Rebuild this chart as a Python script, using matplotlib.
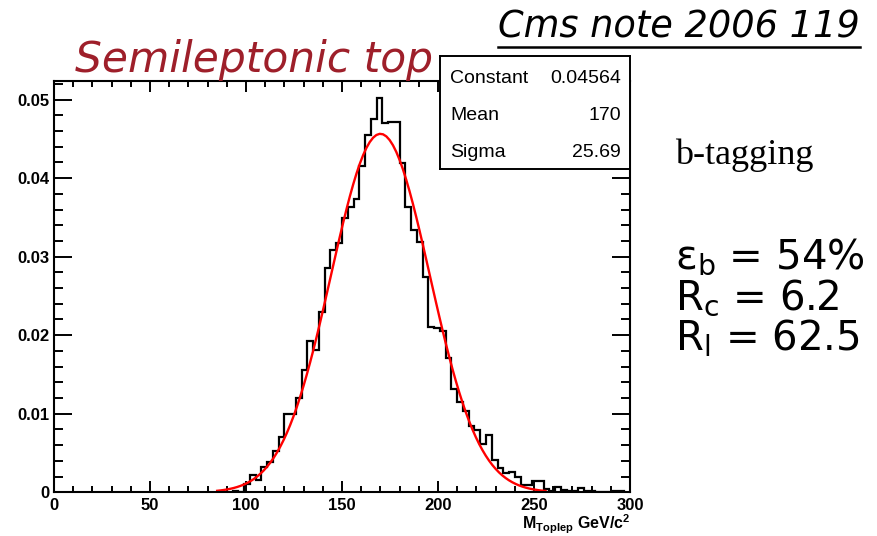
import numpy as np
import matplotlib
matplotlib.use("Agg")
import matplotlib.pyplot as plt
from matplotlib.lines import Line2D
from matplotlib.ticker import MultipleLocator, FixedLocator, FixedFormatter

# --- Datos del histograma (bins de 3 GeV, desde 93 hasta 297) ---
bin_lo = 93
bin_w = 3
counts = [
    0.0002, 0.0, 0.0011, 0.0022, 0.0016, 0.0032, 0.0039, 0.0053, 0.0070, 0.0100,
    0.0100, 0.0120, 0.0156, 0.0192, 0.0181, 0.0230, 0.0285, 0.0308, 0.0318, 0.0349,
    0.0363, 0.0374, 0.0415, 0.0455, 0.0475, 0.0502, 0.0470, 0.0472, 0.0472, 0.0419,
    0.0363, 0.0334, 0.0319, 0.0274, 0.0210, 0.0209, 0.0205, 0.0171, 0.0131, 0.0115,
    0.0103, 0.0085, 0.0079, 0.0062, 0.0073, 0.0041, 0.0031, 0.0024, 0.0026, 0.0019,
    0.0009, 0.0009, 0.0014, 0.0015, 0.0004, 0.0002, 0.0007, 0.0003, 0.0002, 0.0002,
    0.0005, 0.0002, 0.0002, 0.0, 0.0, 0.0, 0.0002, 0.0002,
]

# --- Parametros del ajuste gaussiano ---
fit_const = 0.04564
fit_mean = 170
fit_sigma = 25.69
fit_range = (85, 256)

stat_names = ["Constant", "Mean", "Sigma"]
stat_values = ["0.04564", "170", "25.69"]

yticks = [0, 0.01, 0.02, 0.03, 0.04, 0.05]
ytick_labels = ["0", "0.01", "0.02", "0.03", "0.04", "0.05"]
xticks = [0, 50, 100, 150, 200, 250, 300]

W, H = 877, 536


def fx(x):
    return x / W


def fy(y):
    return 1 - y / H


fig = plt.figure(figsize=(W / 100, H / 100), dpi=100)
ax = fig.add_axes([fx(54), fy(492.3), fx(630) - fx(54), fy(80.7) - fy(492.3)])

edges = bin_lo + bin_w * np.arange(len(counts) + 1)
ax.stairs(counts, edges, color="black", lw=1.6, baseline=0)

xf = np.linspace(fit_range[0], fit_range[1], 100)
yf = fit_const * np.exp(-0.5 * ((xf - fit_mean) / fit_sigma) ** 2)
ax.plot(xf, yf, color="red", lw=1.7)

ax.set_xlim(0, 300)
ax.set_ylim(0, 0.0524)

for s in ax.spines.values():
    s.set_linewidth(1.5)

ax.xaxis.set_major_locator(FixedLocator(xticks))
ax.xaxis.set_minor_locator(MultipleLocator(10))
ax.yaxis.set_major_locator(FixedLocator(yticks))
ax.yaxis.set_major_formatter(FixedFormatter(ytick_labels))
ax.yaxis.set_minor_locator(MultipleLocator(0.002))

ax.tick_params(which="both", direction="in", top=True, right=True, width=1.4)
ax.tick_params(axis="x", which="major", length=8, pad=4)
ax.tick_params(axis="x", which="minor", length=4.3)
ax.tick_params(axis="y", which="major", length=13, pad=3)
ax.tick_params(axis="y", which="minor", length=6.5)
for lab in ax.get_xticklabels() + ax.get_yticklabels():
    lab.set_family("Liberation Sans")
    lab.set_fontweight("bold")
    lab.set_fontsize(12)

fig.text(fx(630), fy(529), r"M$_{\mathregular{Toplep}}$ GeV/c$^{\mathregular{2}}$",
         ha="right", va="baseline", family="Liberation Sans", fontweight="bold", fontsize=11.5)

# --- Caja de estadisticas ---
box = fig.add_axes([fx(440), fy(169), fx(630) - fx(440), fy(56) - fy(169)], zorder=5)
box.set_xticks([])
box.set_yticks([])
box.set_facecolor("white")
for s in box.spines.values():
    s.set_linewidth(1.4)
for i, (n, v) in enumerate(zip(stat_names, stat_values)):
    yb = fy(83 + 37 * i)
    fig.text(fx(450), yb, n, ha="left", va="baseline", family="Liberation Sans",
             fontsize=14, zorder=6)
    fig.text(fx(621), yb, v, ha="right", va="baseline", family="Liberation Sans",
             fontsize=14, zorder=6)

# --- Textos ---
fig.text(fx(75), fy(72), "Semileptonic top", ha="left", va="baseline",
         family="DejaVu Sans", style="italic", fontsize=30.5, color="#9E1F2A", zorder=10)

t = fig.text(fx(860), fy(38), "Cms note 2006 119", ha="right", va="baseline",
             family="DejaVu Sans", style="italic", fontsize=26.5)
fig.canvas.draw()
bb = t.get_window_extent()
fig.add_artist(Line2D([bb.x0 / W, bb.x1 / W], [fy(46.5), fy(46.5)], color="black", lw=1.8))

fig.text(fx(675), fy(164), "b-tagging", ha="left", va="baseline",
         family="Liberation Serif", fontsize=26)

lines = [r"$\mathregular{ε_b}$ = 54%", r"$\mathregular{R_c}$ = 6.2", r"$\mathregular{R_l}$ = 62.5"]
for i, s in enumerate(lines):
    fig.text(fx(675), fy(268 + 41 * i), s, ha="left", va="baseline",
             family="DejaVu Sans", fontsize=29)

fig.savefig("out.png", dpi=100)
